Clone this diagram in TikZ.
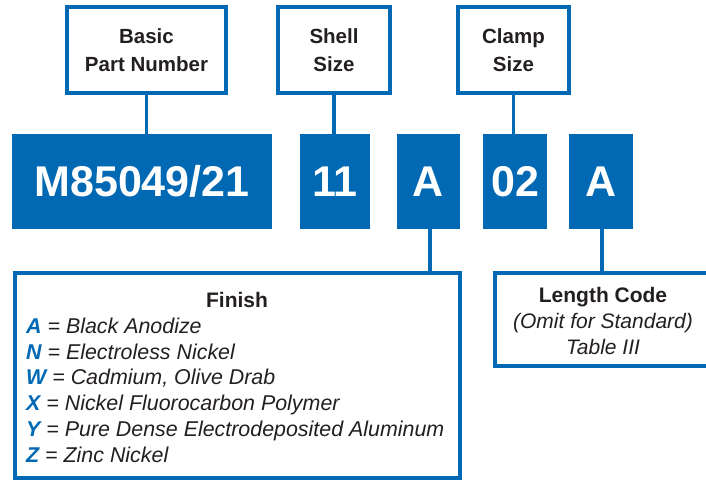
\documentclass[tikz,border=0pt]{standalone}
\usepackage{fontspec}
\setmainfont{Liberation Sans}
\usetikzlibrary{positioning}
\definecolor{pnblue}{RGB}{1,104,179}
\definecolor{pntext}{RGB}{35,31,32}
\newcommand{\fcode}[1]{\textcolor{pnblue}{\bfseries #1}}

\begin{document}
\begin{tikzpicture}[x=1pt, y=-1pt, every node/.style={inner sep=0pt, text=pntext},
  namebox/.style={draw=pnblue, line width=3.6pt, align=center, minimum height=86pt, font=\bfseries\fontsize{20.5}{28}\selectfont},
  codebox/.style={fill=pnblue, text=white, outer sep=0pt, minimum height=95pt, font=\bfseries\fontsize{43}{43}\selectfont},
  infobox/.style={draw=pnblue, line width=3.6pt},
  conn/.style={draw=pnblue, line width=3.6pt},
  headtext/.style={anchor=base, font=\bfseries\fontsize{21}{25}\selectfont},
  itemtext/.style={anchor=base west, font=\itshape\fontsize{21.4}{25}\selectfont}]
  \useasboundingbox (0,0) rectangle (706,480);
  \node[namebox, minimum width=159pt] (basic) at (146.5,50) {Basic\\Part Number};
  \node[namebox, minimum width=112pt] (shell) at (334,50) {Shell\\Size};
  \node[namebox, minimum width=111pt] (clamp) at (513.5,50) {Clamp\\Size};
  \node[codebox, minimum width=260pt] (part) at (142,181.5) {M85049/21};
  \node[codebox, minimum width=70pt] (size) at (335,181.5) {11};
  \node[codebox, minimum width=63pt] (fin) at (428,181.5) {A};
  \node[codebox, minimum width=64pt] (clp) at (515,181.5) {02};
  \node[codebox, minimum width=64pt] (len) at (601,181.5) {A};
  \node[infobox, minimum width=445pt, minimum height=205pt] (finish) at (237.5,375.5) {};
  \node[infobox, minimum width=217pt, minimum height=93pt] (length) at (603.5,319.5) {};
  \draw[conn] (basic) -- (basic |- part.north);
  \draw[conn] (shell) -- (shell |- size.north);
  \draw[conn] (clamp) -- (clamp |- clp.north);
  \draw[conn] ([xshift=2pt]fin.south) -- ([xshift=2pt]fin.south |- finish.north);
  \draw[conn] ([xshift=1pt]len.south) -- ([xshift=1pt]len.south |- length.north);
  \node[headtext] (fhead) at (237,307) {Finish};
  \node[itemtext] (fa) at (26,333.3) {\fcode{A} = Black Anodize};
  \node[itemtext] (fn) at (26,359.1) {\fcode{N} = Electroless Nickel};
  \node[itemtext] (fw) at (26,384.9) {\fcode{W} = Cadmium, Olive Drab};
  \node[itemtext] (fx) at (26,410.7) {\fcode{X} = Nickel Fluorocarbon Polymer};
  \node[itemtext] (fy) at (26,436.5) {\fcode{Y} = Pure Dense Electrodeposited Aluminum};
  \node[itemtext] (fz) at (26,462.3) {\fcode{Z} = Zinc Nickel};
  \node[headtext] (lhead) at (603,302) {Length Code};
  \node[headtext, font=\itshape\fontsize{21}{25}\selectfont] (lomit) at (603,328.5) {(Omit for Standard)};
  \node[headtext, font=\itshape\fontsize{21}{25}\selectfont] (ltab) at (603,354) {Table III};
\end{tikzpicture}
\end{document}
